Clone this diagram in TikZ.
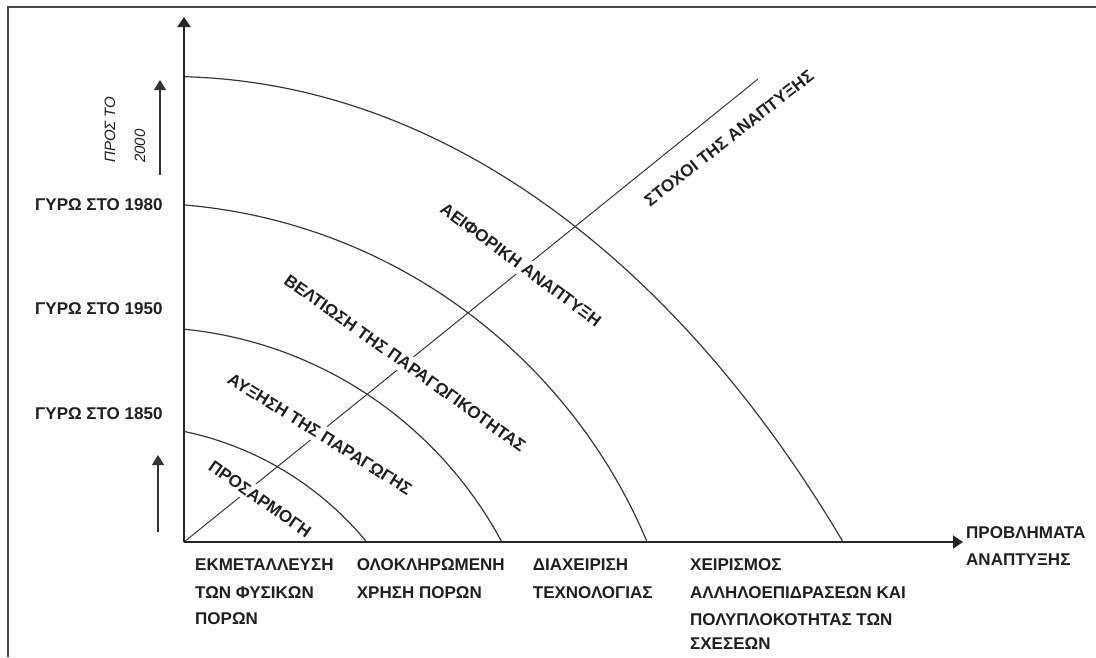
\documentclass[tikz,border=0pt]{standalone}
\usepackage{fontspec}
\newfontfamily\lsans{Liberation Sans}
\usetikzlibrary{arrows.meta}
\begin{document}
\begin{tikzpicture}[x=1pt,y=-1pt,
  lab/.style={font=\lsans\bfseries\fontsize{17}{20}\selectfont, anchor=base west, inner sep=0pt, text=black!88},
  rlab/.style={font=\lsans\bfseries\fontsize{17}{20}\selectfont, fill=white, inner xsep=1pt, inner ysep=4pt, text=black!88},
  ital/.style={font=\lsans\itshape\fontsize{15}{18}\selectfont, anchor=base west, inner sep=0pt, rotate=90, text=black!88},
  axis/.style={line width=2pt, draw=black!85, -{Triangle[width=13pt,length=10pt]}},
  curve/.style={line width=1.2pt, draw=black!78},
  diag/.style={line width=1pt, draw=black!78},
  smallarrow/.style={line width=1.2pt, draw=black!80, -{Triangle[width=12pt,length=10pt]}},
  frame/.style={line width=2pt, draw=black!72}
]
\useasboundingbox (0,0) rectangle (1096,657);
\fill[white] (0,0) rectangle (1096,657);
\draw[frame] (8,657) -- (8,6.5) -- (1096,6.5);

\coordinate (O) at (184,542);
\coordinate (ytip) at (184,17);
\coordinate (xtip) at (963,542);
\coordinate (dend) at (758,79);

% diagonal
\draw[diag] (O) -- (dend);

% rotated labels (white backing breaks the diagonal)
\node[rlab, rotate=-35] (l1) at (260,499) {ΠΡΟΣΑΡΜΟΓΗ};
\node[rlab, rotate=-32] (l2) at (320,434) {ΑΥΞΗΣΗ ΤΗΣ ΠΑΡΑΓΩΓΗΣ};
\node[rlab, rotate=-35.5] (l3) at (405,363) {ΒΕΛΤΙΩΣΗ ΤΗΣ ΠΑΡΑΓΩΓΙΚΟΤΗΤΑΣ};
\node[rlab, rotate=-36.5] (l4) at (521,265) {ΑΕΙΦΟΡΙΚΗ ΑΝΑΠΤΥΞΗ};
\node[rlab, rotate=38] (l5) at (729,138) {ΣΤΟΧΟΙ ΤΗΣ ΑΝΑΠΤΥΞΗΣ};

% curves
\begin{scope}
  \clip (184,542) rectangle (1000,0);
  \draw[curve] (118.3,746.3) circle[radius=321.6pt];
  \draw[curve] (143.6,733.1) circle[radius=405.9pt];
  \draw[curve] (137.5,755.3) circle[radius=552.3pt];
  \draw[curve] (168.9,1580.5) ellipse[x radius=932pt, y radius=1504pt];
\end{scope}

% axes
\draw[axis] (O) -- (ytip);
\draw[axis] (O) -- (xtip);

% small arrows
\coordinate (a1s) at (160,175);
\coordinate (a1e) at (160,80);
\coordinate (a2s) at (158,532);
\coordinate (a2e) at (158,455);
\draw[smallarrow] (a1s) -- (a1e);
\draw[smallarrow] (a2s) -- (a2e);

% left labels
\node[lab] (g1980) at (35,210) {ΓΥΡΩ ΣΤΟ 1980};
\node[lab] (g1950) at (35,314) {ΓΥΡΩ ΣΤΟ 1950};
\node[lab] (g1850) at (35,419.3) {ΓΥΡΩ ΣΤΟ 1850};
\node[ital] (p2000a) at (115,163) {ΠΡΟΣ ΤΟ};
\node[ital] (p2000b) at (145,163) {2000};

% bottom labels
\node[lab] (b1a) at (195,570.7) {ΕΚΜΕΤΑΛΛΕΥΣΗ};
\node[lab] (b1b) at (195,598.3) {ΤΩΝ ΦΥΣΙΚΩΝ};
\node[lab] (b1c) at (195,624) {ΠΟΡΩΝ};
\node[lab] (b2a) at (356.7,570.7) {ΟΛΟΚΛΗΡΩΜΕΝΗ};
\node[lab] (b2b) at (356.7,598.3) {ΧΡΗΣΗ ΠΟΡΩΝ};
\node[lab] (b3a) at (532.7,570.7) {ΔΙΑΧΕΙΡΙΣΗ};
\node[lab] (b3b) at (532.7,598.3) {ΤΕΧΝΟΛΟΓΙΑΣ};
\node[lab] (b4a) at (690,570) {ΧΕΙΡΙΣΜΟΣ};
\node[lab] (b4b) at (690,598.3) {ΑΛΛΗΛΟΕΠΙΔΡΑΣΕΩΝ ΚΑΙ};
\node[lab] (b4c) at (690,625) {ΠΟΛΥΠΛΟΚΟΤΗΤΑΣ ΤΩΝ};
\node[lab] (b4d) at (690,649.3) {ΣΧΕΣΕΩΝ};
\node[lab] (r1) at (966,538.3) {ΠΡΟΒΛΗΜΑΤΑ};
\node[lab] (r2) at (966,565) {ΑΝΑΠΤΥΞΗΣ};
\end{tikzpicture}
\end{document}
